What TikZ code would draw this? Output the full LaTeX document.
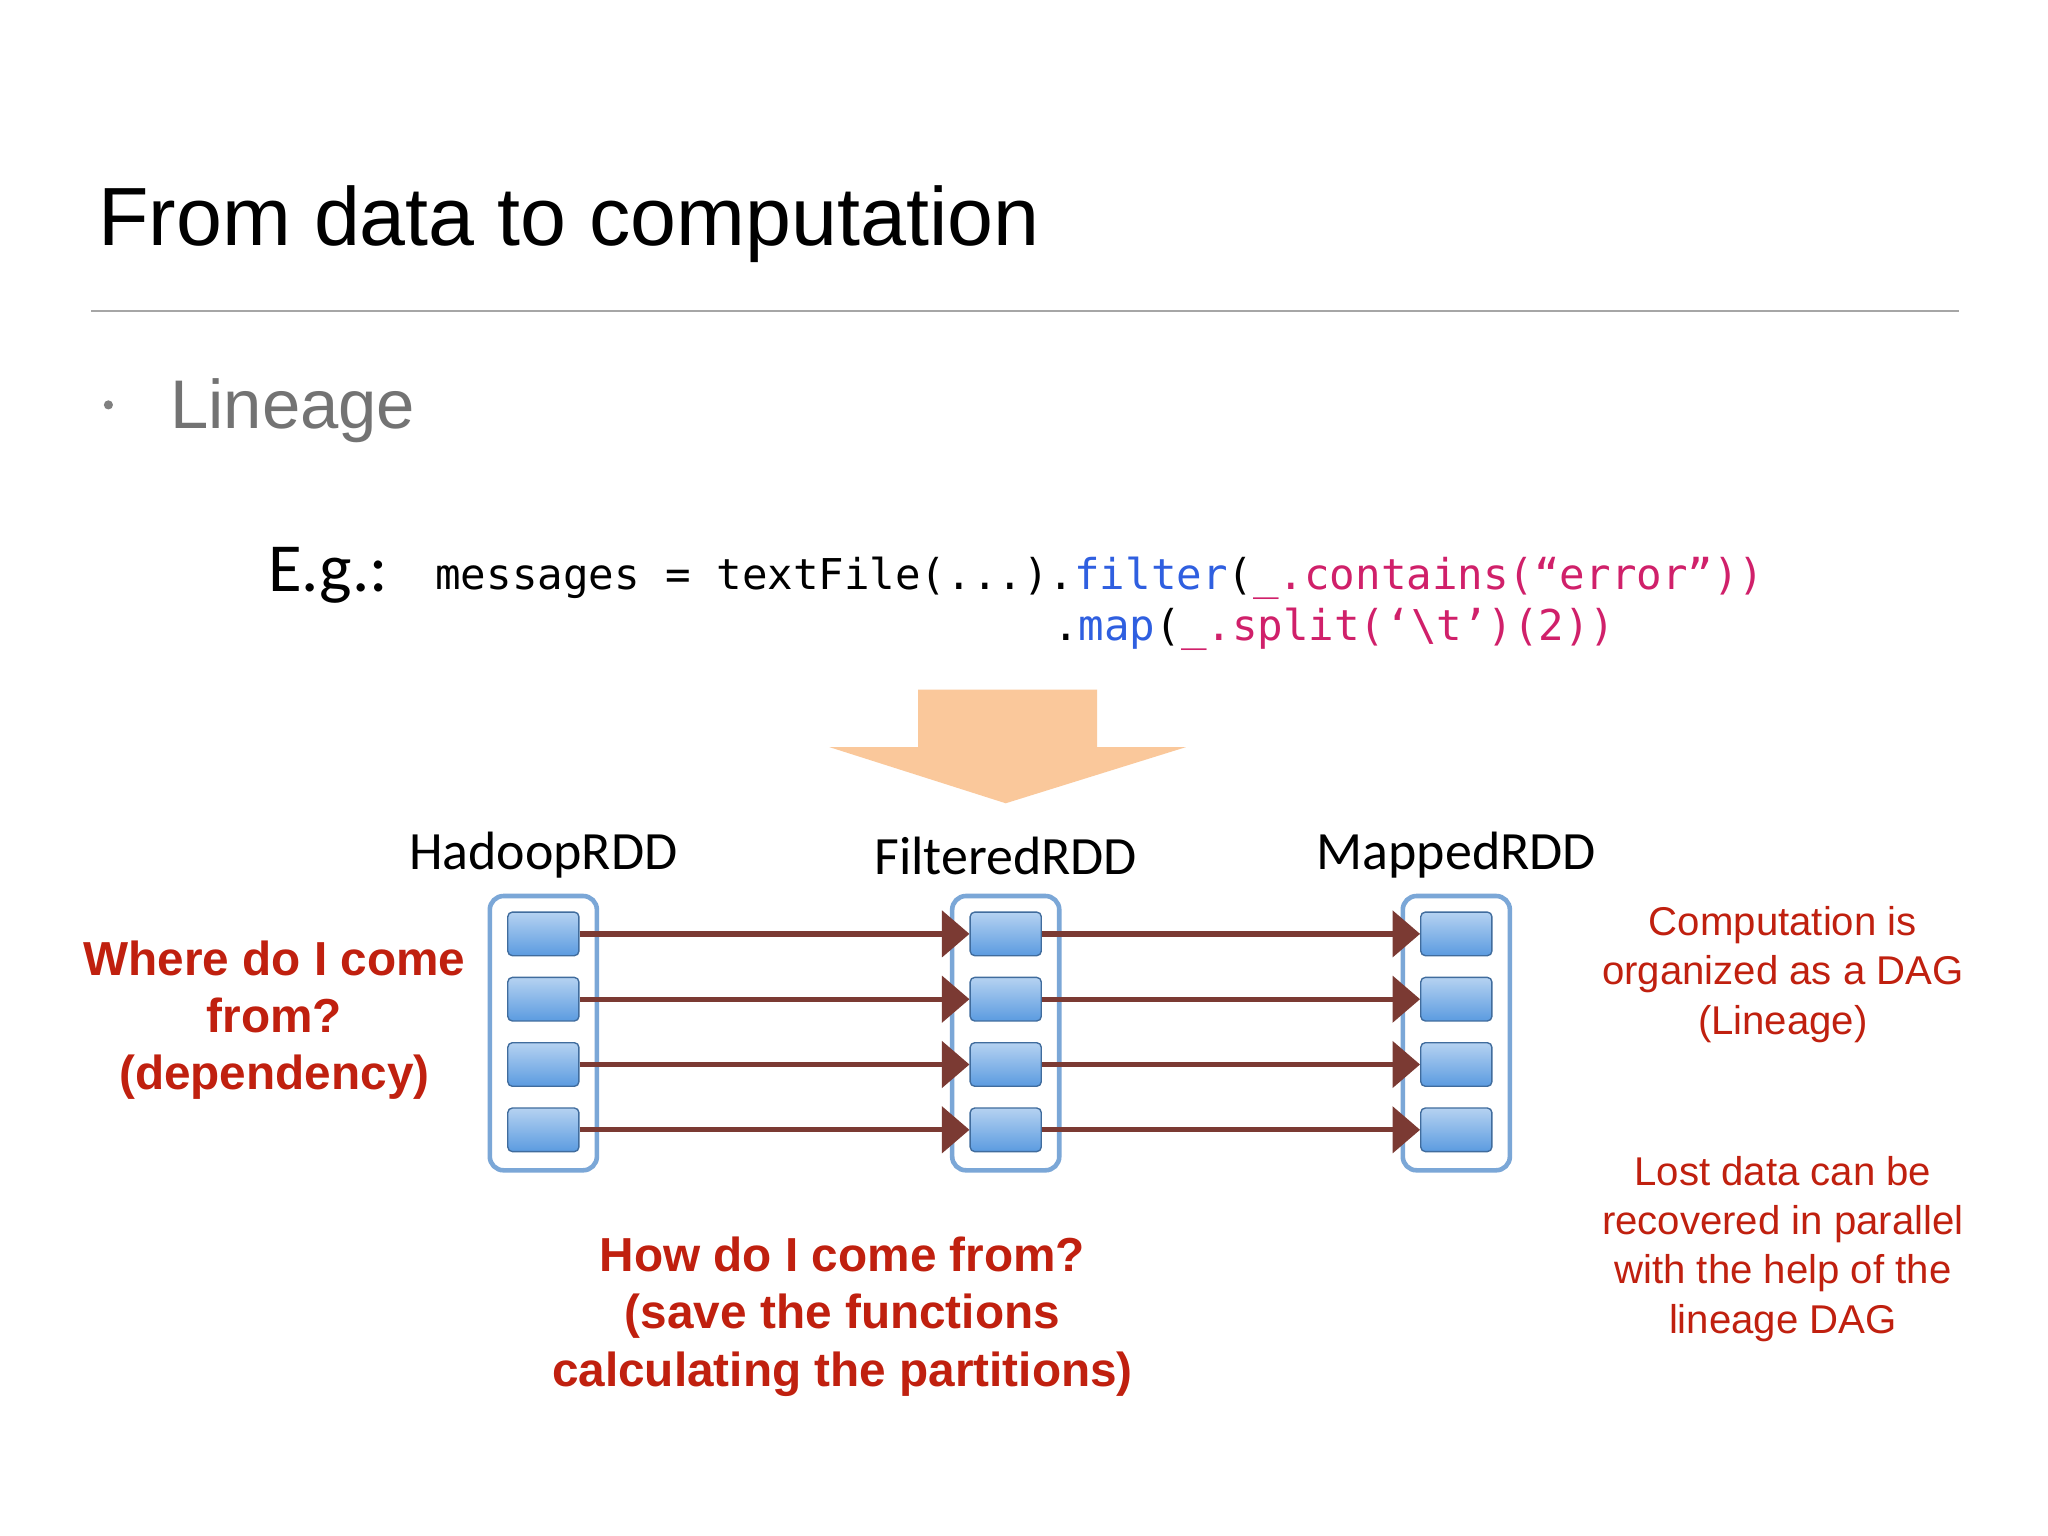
\documentclass[tikz,border=0pt]{standalone}
\usepackage{fontspec}
\setmainfont{Liberation Sans}
\newfontfamily\codefont{DejaVu Sans Mono}
\newfontfamily\labfont{Carlito}
\usetikzlibrary{arrows.meta}
\definecolor{redtxt}{HTML}{C0200F}
\definecolor{arrowc}{HTML}{7B3A33}
\definecolor{boxline}{HTML}{7BA7D7}
\definecolor{partc}{HTML}{5B9BE0}
\definecolor{peach}{HTML}{FAC89B}
\definecolor{codeblue}{HTML}{2F5FE0}
\definecolor{codemag}{HTML}{D0206A}
\tikzset{
  part/.style={draw=partc!70!black,line width=0.6pt,rounded corners=2pt,top color=partc!45,bottom color=partc,minimum width=31pt,minimum height=19pt,inner sep=0},
  cont/.style={draw=boxline,line width=2pt,rounded corners=6pt,fill=white},
  flow/.style={draw=arrowc,line width=2.3pt,-{Triangle[length=12pt,width=20pt]}},
  rdd/.style={font=\labfont\fontsize{23.5}{27}\selectfont},
  redb/.style={text=redtxt,font=\bfseries\fontsize{20.8}{25}\selectfont,align=center},
  redn/.style={text=redtxt,font=\fontsize{17.5}{21.5}\selectfont,align=center}
}
\begin{document}
\begin{tikzpicture}[x=0.02cm,y=-0.02cm]
\useasboundingbox (0,0) rectangle (1568,1176);
\fill[white] (0,0) rectangle (1568,1176);
\node[anchor=base west,inner sep=0,font=\fontsize{36}{42}\selectfont] (title) at (75,188) {From data to computation};
\draw[gray!70,line width=0.7pt] (70,238) -- (1500,238);
\fill[gray] (83,310) circle (3.5);
\node[anchor=base west,inner sep=0,text=gray!90!black,font=\fontsize{30}{36}\selectfont] (lin) at (130,328) {Lineage};
\node[anchor=base west,inner sep=0,font=\labfont\fontsize{30}{34}\selectfont] (eg) at (205,453) {E.g.:};
\node[anchor=base west,inner sep=0,font=\codefont\fontsize{18.5}{22}\selectfont] (code1) at (333,451) {messages = textFile(...).\textcolor{codeblue}{filter}(\textcolor{codemag}{\_.contains(“error”))}};
\node[anchor=base west,inner sep=0,font=\codefont\fontsize{18.5}{22}\selectfont] (code2) at (806,490) {.\textcolor{codeblue}{map}(\textcolor{codemag}{\_.split(‘\textbackslash t’)(2))}};
\fill[peach] (703,528) -- (840,528) -- (840,572) -- (908,572) -- (770,615) -- (635,572) -- (703,572) -- cycle;
\foreach \n/\x/\t in {h/416/HadoopRDD,f/770/FilteredRDD,m/1115/MappedRDD}{
  \node[rdd] (\n lab) at (\x,655) {\t};
  \draw[cont] (\x-41,686) rectangle (\x+41,896);
  \foreach \i/\y in {1/715,2/765,3/815,4/865}{
    \node[part] (\n\i) at (\x,\y) {};
  }
}
\foreach \i in {1,2,3,4}{
  \draw[flow] (h\i.east) -- (f\i.west);
  \draw[flow] (f\i.east) -- (m\i.west);
}
\node[redb] (where) at (210,781) {Where do I come\\from?\\(dependency)};
\node[redb] (how) at (645,1008) {How do I come from?\\(save the functions\\calculating the partitions)};
\node[redn] (comp) at (1365,746) {Computation is\\organized as a DAG\\(Lineage)};
\node[redn] (lost) at (1365,956) {Lost data can be\\recovered in parallel\\with the help of the\\lineage DAG};
\end{tikzpicture}
\end{document}
